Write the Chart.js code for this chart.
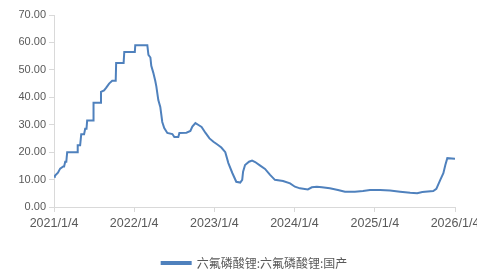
<!DOCTYPE html>
<html>
<head>
<meta charset="utf-8">
<script src="https://cdn.jsdelivr.net/npm/chart.js@4/dist/chart.umd.min.js"></script>
<style>
  html, body { margin: 0; padding: 0; background: #fff; }
  #wrap { width: 477px; height: 279px; }
</style>
</head>
<body>
<div id="wrap"><canvas id="priceChart" width="477" height="279"></canvas></div>
<script>
// 六氟磷酸锂 国产 价格 (万元/吨)
const dates = [
  '2021-01-04', '2021-01-08', '2021-01-22', '2021-02-01', '2021-02-15', '2021-02-19', '2021-02-24', '2021-03-01',
  '2021-03-05', '2021-04-20', '2021-04-22', '2021-05-03', '2021-05-08', '2021-05-21', '2021-05-26', '2021-06-01',
  '2021-06-04', '2021-07-01', '2021-07-03', '2021-08-02', '2021-08-06', '2021-08-20', '2021-08-30', '2021-09-12',
  '2021-09-26', '2021-10-12', '2021-10-14', '2021-11-17', '2021-11-20', '2022-01-07', '2022-01-09', '2022-03-05',
  '2022-03-10', '2022-03-19', '2022-03-23', '2022-04-01', '2022-04-10', '2022-04-15', '2022-04-24', '2022-05-03',
  '2022-05-12', '2022-05-21', '2022-06-04', '2022-06-27', '2022-07-06', '2022-07-24', '2022-07-29', '2022-08-30',
  '2022-09-17', '2022-09-26', '2022-10-10', '2022-10-24', '2022-11-07', '2022-11-25', '2022-12-13', '2022-12-31',
  '2023-01-18', '2023-02-05', '2023-02-23', '2023-03-09', '2023-03-27', '2023-04-14', '2023-05-02', '2023-05-11',
  '2023-05-15', '2023-05-24', '2023-06-11', '2023-06-25', '2023-07-09', '2023-08-01', '2023-08-23', '2023-09-15',
  '2023-10-07', '2023-11-13', '2023-12-15', '2024-01-06', '2024-01-29', '2024-03-05', '2024-03-23', '2024-04-15',
  '2024-05-08', '2024-06-13', '2024-07-20', '2024-08-21', '2024-10-05', '2024-11-11', '2024-12-13', '2025-01-28',
  '2025-03-14', '2025-04-29', '2025-06-14', '2025-07-16', '2025-08-08', '2025-09-27', '2025-10-11', '2025-10-29',
  '2025-11-12', '2025-11-21', '2025-11-30', '2026-01-04'
];
const values = [
  11.0, 11.4, 12.5, 14.0, 14.8, 14.8, 16.5, 16.5,
  20.0, 20.0, 22.5, 22.5, 26.5, 26.5, 28.5, 28.5,
  31.5, 31.5, 38.0, 38.0, 42.0, 42.5, 43.5, 45.0,
  46.0, 46.0, 52.5, 52.5, 56.5, 56.5, 59.0, 59.0,
  55.5, 54.5, 51.5, 49.0, 46.0, 44.0, 39.0, 36.5,
  31.0, 28.8, 27.0, 26.6, 25.5, 25.5, 27.0, 27.1,
  27.7, 29.3, 30.6, 29.9, 29.2, 27.0, 25.0, 23.8,
  22.8, 21.7, 20.0, 16.0, 12.4, 9.2, 8.9, 9.9,
  12.9, 15.3, 16.5, 16.9, 16.4, 15.1, 13.9, 11.7,
  9.9, 9.5, 8.6, 7.4, 6.8, 6.4, 7.2, 7.4,
  7.2, 6.8, 6.2, 5.6, 5.6, 5.8, 6.2, 6.2,
  6.0, 5.6, 5.2, 5.0, 5.5, 5.8, 6.6, 9.9,
  12.3, 15.3, 17.8, 17.6
];
const tickDates = ['2021-01-04', '2022-01-04', '2023-01-04', '2024-01-04', '2025-01-04', '2026-01-04'];
const tickLabels = ['2021/1/4', '2022/1/4', '2023/1/4', '2024/1/4', '2025/1/4', '2026/1/4'];
const seriesName = '六氟磷酸锂:六氟磷酸锂:国产';

const dayMs = 86400000;
const origin = Date.UTC(2021, 0, 4);
const toDay = s => {
    const [y, m, d] = s.split('-').map(Number);
    return (Date.UTC(y, m - 1, d) - origin) / dayMs;
};
const points = dates.map((d, i) => ({ x: toDay(d), y: values[i] }));
const tickValues = tickDates.map(toDay);

const axisColor = '#d9d9d9';
const textColor = '#595959';

// nudge the legend a bit to the right, like the original
const legendShift = {
    id: 'legendShift',
    afterLayout: chart => {
        if (chart.legend) {
            chart.legend.left += 27;
            chart.legend.right += 27;
        }
    }
};

const ctx = document.getElementById('priceChart').getContext('2d');
new Chart(ctx, {
    type: 'line',
    data: {
        datasets: [{
            label: seriesName,
            data: points,
            borderColor: '#4f81bd',
            backgroundColor: '#4f81bd',
            borderWidth: 2,
            pointRadius: 0,
            tension: 0,
            fill: false
        }]
    },
    options: {
        responsive: false,
        animation: false,
        layout: { padding: { top: 15, right: 22, bottom: 0, left: 0 } },
        scales: {
            x: {
                type: 'linear',
                min: tickValues[0],
                max: tickValues[tickValues.length - 1],
                afterBuildTicks: scale => {
                    scale.ticks = tickValues.map(v => ({ value: v }));
                },
                afterFit: scale => {
                    scale.paddingLeft = 0;
                    scale.paddingRight = 0;
                    scale.height = 40;
                },
                ticks: {
                    autoSkip: false,
                    maxRotation: 0,
                    color: textColor,
                    font: { family: 'Liberation Sans', size: 12.5 },
                    padding: 4,
                    callback: v => tickLabels[tickValues.indexOf(v)] || ''
                },
                grid: { drawOnChartArea: false, drawTicks: true, tickLength: 5, color: axisColor },
                border: { color: axisColor }
            },
            y: {
                min: 0,
                max: 70,
                afterFit: scale => {
                    scale.width = 54;
                    scale.paddingTop = 0;
                    scale.paddingBottom = 0;
                },
                ticks: {
                    stepSize: 10,
                    color: textColor,
                    font: { family: 'Liberation Sans', size: 11 },
                    padding: 3,
                    callback: v => v.toFixed(2)
                },
                grid: { drawOnChartArea: false, drawTicks: true, tickLength: 5, color: axisColor },
                border: { color: axisColor }
            }
        },
        plugins: {
            legend: {
                position: 'bottom',
                labels: {
                    boxWidth: 29,
                    boxHeight: 2,
                    padding: 10,
                    color: textColor,
                    font: { family: 'Noto Sans CJK SC', size: 12 }
                }
            },
            tooltip: { enabled: false }
        }
    },
    plugins: [legendShift]
});
</script>
</body>
</html>
